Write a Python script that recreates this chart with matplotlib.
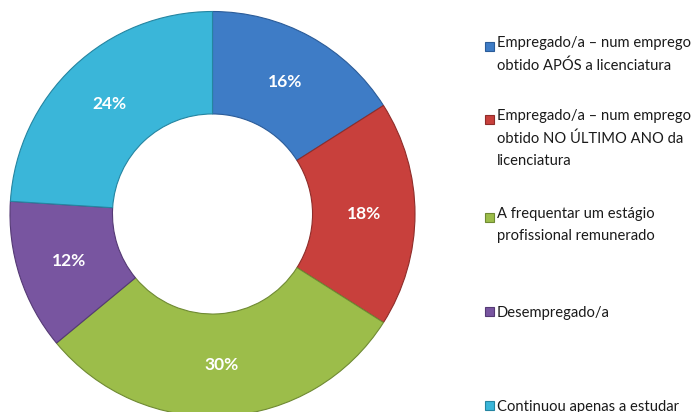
import matplotlib.pyplot as plt
from matplotlib.patches import Rectangle

# data
categories = [
    "Empregado/a \u2013 num emprego\nobtido AP\u00d3S a licenciatura",
    "Empregado/a \u2013 num emprego\nobtido NO \u00daLTIMO ANO da\nlicenciatura",
    "A frequentar um est\u00e1gio\nprofissional remunerado",
    "Desempregado/a",
    "Continuou apenas a estudar",
]
shares = [16, 18, 30, 12, 24]
colors = ["#3E7CC6", "#C8403C", "#9CBD4A", "#7855A0", "#3AB6D9"]
edge_colors = ["#2B5C99", "#8F2D2A", "#6F8A33", "#553A75", "#2585A1"]

# legend text y positions (pixels from top, first line)
legend_y = [46, 119, 217, 311, 405]

W, H = 694, 412
fig = plt.figure(figsize=(W / 100, H / 100), dpi=100)

# donut: centre (212.5, 214) px, radius 202.5 px
cx, cy, r = 212.5, 214, 202.5
ax = fig.add_axes([(cx - r) / W, (H - cy - r) / H, 2 * r / W, 2 * r / H])
wedges, texts, autotexts = ax.pie(
    shares, colors=colors, startangle=90, counterclock=False, radius=1,
    autopct="%d%%", pctdistance=0.746,
    wedgeprops=dict(width=0.506, linewidth=0.8),
    textprops=dict(color="white", fontsize=12.5, fontweight="bold", family="Lato"),
)
for w, ec in zip(wedges, edge_colors):
    w.set_edgecolor(ec)
ax.set_xlim(-1, 1)
ax.set_ylim(-1, 1)
ax.set_aspect("equal")
ax.axis("off")

# legend drawn by hand so the spacing matches
for label, col, ec, y in zip(categories, colors, edge_colors, legend_y):
    fig.patches.append(Rectangle((485 / W, (H - y - 4.5) / H), 9 / W, 9 / H,
                                 transform=fig.transFigure, facecolor=col,
                                 edgecolor=ec, linewidth=0.8))
    if "\n" in label:
        fig.text(497 / W, (H - y + 10) / H, label, ha="left", va="top",
                 fontsize=10.6, family="Lato", color="#1A1A1A", linespacing=1.72)
    else:
        fig.text(497 / W, (H - y) / H, label, ha="left", va="center_baseline",
                 fontsize=10.6, family="Lato", color="#1A1A1A")

fig.savefig("out.png", dpi=100)
